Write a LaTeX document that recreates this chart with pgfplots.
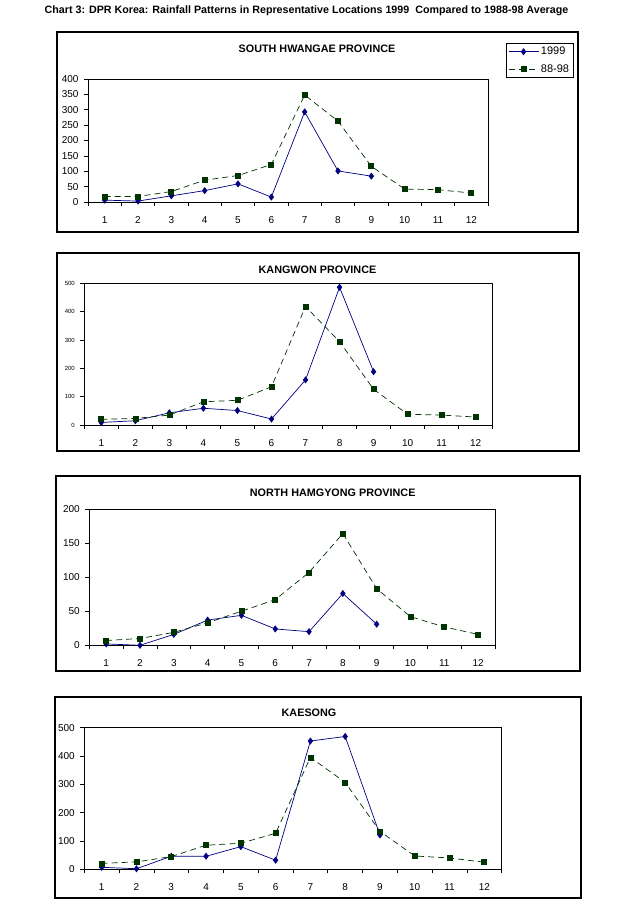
\documentclass[border=0pt]{standalone}
\usepackage{fontspec}
\setmainfont{Liberation Sans}
\usepackage{pgfplots}
\pgfplotsset{compat=1.18}
\definecolor{navyc}{RGB}{0,0,128}
\definecolor{greenc}{RGB}{0,51,0}
\pgfplotsset{
 panel/.style={scale only axis, xmin=0.5, xmax=12.5, ymin=0,
   xtick={1,...,12}, minor xtick={0.5,1.5,...,12.5},
   major x tick style={draw=none},
   tick align=outside, xtick pos=left, ytick pos=left,
   tick style={black, line width=0.6pt},
   major tick length=4pt, minor tick length=4pt,
   axis line style={line width=0.8pt},
   /pgf/number format/assume math mode=true,
   tick label style={font=\fontsize{10}{12}\selectfont},
   xticklabel style={yshift=-7pt},
   yticklabel style={xshift=-2pt},
   clip=false},
 s99/.style={navyc, line width=0.7pt, mark=diamond*, mark size=3pt, mark options={solid, fill=navyc}},
 s88/.style={greenc, line width=0.7pt, dash pattern=on 6pt off 4pt, mark=square*, mark size=2.5pt, mark options={solid, fill=greenc}},
}
\begin{document}
\begin{tikzpicture}[x=1pt,y=1pt]
\useasboundingbox (0pt,0pt) rectangle (640pt,912pt);
\node[font=\bfseries\fontsize{10.7}{12}\selectfont, anchor=center] at (306.5pt,901pt) {Chart 3: DPR Korea: Rainfall Patterns in Representative Locations 1999\ \ Compared to 1988-98 Average};

% Panel 1
\draw[line width=2pt] (57pt,680pt) rectangle (578pt,880pt);
\node[font=\bfseries\fontsize{10.8}{12}\selectfont] at (317pt,863pt) {SOUTH HWANGAE PROVINCE};
\begin{axis}[panel, at={(88pt,710pt)}, anchor=south west, width=400pt, height=123pt,
  ymax=400, ytick={0,50,...,400},
  legend style={at={(axis description cs:1.045,1.293)}, anchor=north west, draw=black,
    font=\fontsize{11}{13}\selectfont, row sep=4pt, inner sep=2pt},
  legend cell align=left,
  legend image code/.code={\draw[mark repeat=2,mark phase=2,#1] plot coordinates {(0pt,0pt) (15pt,0pt) (30pt,0pt)};}]
\addplot[s99] coordinates {(1,6)(2,3)(3,20)(4,37)(5,59)(6,16)(7,293)(8,101)(9,84)};
\addlegendentry{1999}
\addplot[s88] coordinates {(1,18)(2,18)(3,34)(4,71)(5,86)(6,122)(7,348)(8,263)(9,116)(10,42)(11,40)(12,29)};
\addlegendentry{88-98}
\end{axis}

% Panel 2
\draw[line width=2pt] (56.5pt,461pt) rectangle (579pt,659.3pt);
\node[font=\bfseries\fontsize{10.8}{12}\selectfont] at (317.5pt,642pt) {KANGWON PROVINCE};
\begin{axis}[panel, at={(84.3pt,487pt)}, anchor=south west, width=408.4pt, height=141.7pt,
  ymax=500, ytick={0,100,...,500},
  yticklabel style={font=\fontsize{6}{7}\selectfont}]
\addplot[s99] coordinates {(1,9)(2,15)(3,43)(4,59)(5,51)(6,21)(7,159)(8,486)(9,188)};
\addplot[s88] coordinates {(1,20)(2,23)(3,35)(4,82)(5,87)(6,135)(7,418)(8,294)(9,126)(10,38)(11,35)(12,28)};
\end{axis}

% Panel 3
\draw[line width=2pt] (56pt,241pt) rectangle (580pt,436.3pt);
\node[font=\bfseries\fontsize{10.8}{12}\selectfont] at (332.7pt,419.3pt) {NORTH HAMGYONG PROVINCE};
\begin{axis}[panel, at={(89.3pt,266.7pt)}, anchor=south west, width=405.7pt, height=136.3pt,
  ymax=200, ytick={0,50,...,200}]
\addplot[s99] coordinates {(1,2)(2,0)(3,16)(4,37)(5,44)(6,24)(7,20)(8,76)(9,31)};
\addplot[s88] coordinates {(1,7)(2,10)(3,19)(4,33)(5,50)(6,67)(7,107)(8,164)(9,83)(10,42)(11,27)(12,16)};
\end{axis}

% Panel 4
\draw[line width=2pt] (55pt,14pt) rectangle (581pt,214.7pt);
\node[font=\bfseries\fontsize{10.8}{12}\selectfont] at (309pt,199pt) {KAESONG};
\begin{axis}[panel, at={(84.3pt,42.7pt)}, anchor=south west, width=417.4pt, height=141.6pt,
  ymax=500, ytick={0,100,...,500}]
\addplot[s99] coordinates {(1,7)(2,2)(3,46)(4,46)(5,80)(6,32)(7,453)(8,469)(9,121)};
\addplot[s88] coordinates {(1,21)(2,26)(3,45)(4,85)(5,92)(6,127)(7,395)(8,307)(9,134)(10,47)(11,40)(12,25)};
\end{axis}
\end{tikzpicture}
\end{document}
